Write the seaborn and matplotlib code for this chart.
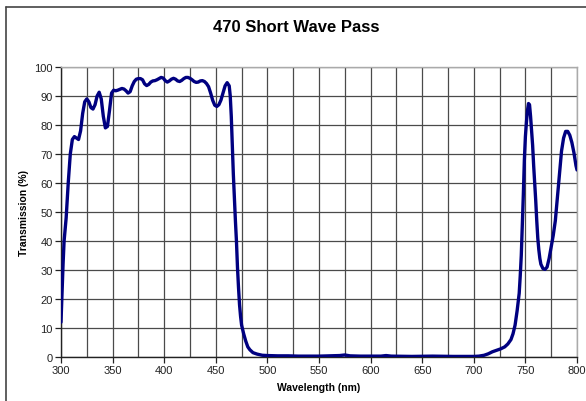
import matplotlib
matplotlib.use("Agg")
import matplotlib.pyplot as plt
from matplotlib.lines import Line2D
from matplotlib.ticker import MultipleLocator
import seaborn as sns
import pandas as pd

# spectrum
wavelength = [300, 302, 303, 305, 307, 309, 311, 313, 315, 317, 319, 321, 323, 325, 327, 329,
              331, 333, 335, 337, 339, 341, 343, 345, 347, 349, 351, 353, 355, 357, 359, 361,
              363, 365, 367, 369, 371, 373, 375, 377, 379, 381, 383, 385, 387, 389, 391, 393,
              395, 397, 399, 401, 403, 405, 407, 409, 411, 413, 415, 417, 419, 421, 423, 425,
              427, 429, 431, 433, 435, 437, 439, 441, 443, 445, 447, 449, 451, 453, 455, 457,
              459, 461, 463, 464, 465, 466, 467, 468, 469, 470, 471, 472, 473, 474, 475, 477,
              479, 481, 483, 486, 490, 495, 500, 510, 520, 530, 540, 550, 560, 570, 575, 580,
              590, 600, 610, 615, 620, 640, 660, 680, 700, 705, 710, 714, 718, 722, 726, 730,
              733, 736, 738, 740, 742, 744, 745, 746, 747, 748, 749, 750, 751, 752, 753, 754,
              755, 756, 757, 758, 759, 760, 761, 762, 763, 764, 765, 767, 769, 771, 773, 775,
              777, 779, 781, 783, 785, 787, 789, 791, 793, 795, 797, 799, 800]
transmission = [12, 32, 40, 48, 60, 70, 75, 76, 75.5, 75, 78, 84, 88, 89, 88, 86,
                85.5, 87, 90, 91.3, 89, 83, 79, 79.5, 85, 91, 92, 91.8, 92, 92.3, 92.6, 92.4,
                91.8, 91, 91.5, 93.5, 95, 95.8, 96, 96, 95.6, 94.2, 93.6, 94, 94.8, 95.2, 95.3, 95.6,
                96, 96.4, 96.2, 95.3, 94.8, 95.2, 95.8, 96.1, 95.8, 95.2, 95, 95.4, 96, 96.4, 96.4, 96.1,
                95.6, 95, 94.7, 94.8, 95.2, 95.3, 95, 94.3, 93.2, 91, 88.5, 86.8, 86.4, 87, 88.6, 91,
                93.5, 94.6, 93.5, 90, 83, 73, 63, 55, 47, 40, 31, 24, 18, 14, 11, 8,
                5.5, 3.5, 2.5, 1.5, 1, 0.6, 0.5, 0.4, 0.4, 0.3, 0.3, 0.3, 0.4, 0.5, 0.7, 0.4,
                0.3, 0.3, 0.3, 0.5, 0.3, 0.2, 0.3, 0.2, 0.2, 0.3, 0.6, 1.1, 1.8, 2.3, 2.8, 3.5,
                4.5, 6, 8, 11, 16, 22, 28, 35, 45, 56, 68, 76, 81, 85, 87.4, 87,
                83, 78, 73, 66, 60, 54, 47, 41, 37, 34, 32, 30.5, 30.2, 31, 34, 38,
                42, 47, 55, 63, 71, 75.5, 77.8, 77.8, 76.5, 74, 70.5, 66, 64.5]

df = pd.DataFrame({"Wavelength (nm)": wavelength, "Transmission (%)": transmission})

sns.set_style("white")
plt.rcParams["font.family"] = ["Liberation Sans", "DejaVu Sans"]
plt.rcParams["text.color"] = "black"
plt.rcParams["axes.labelcolor"] = "black"
plt.rcParams["xtick.color"] = "#222222"
plt.rcParams["ytick.color"] = "#222222"

fig = plt.figure(figsize=(5.86, 4.02), dpi=100)
ax = fig.add_axes([61 / 586, 1 - 358 / 402, 516 / 586, 290 / 402])

sns.lineplot(data=df, x="Wavelength (nm)", y="Transmission (%)", ax=ax,
             color="#000080", linewidth=2.4, zorder=3)

ax.set_xlim(300, 800)
ax.set_ylim(0, 100)
ax.xaxis.set_major_locator(MultipleLocator(50))
ax.xaxis.set_minor_locator(MultipleLocator(25))
ax.yaxis.set_major_locator(MultipleLocator(10))
ax.grid(True, which="both", color="#4a4a4a", linewidth=0.9, zorder=1)
ax.set_axisbelow(True)

ax.tick_params(axis="both", which="major", direction="out", length=4, width=0.9,
               labelsize=8, pad=2, left=True, bottom=True)
ax.tick_params(axis="both", which="minor", length=0)

for side in ["left", "bottom"]:
    ax.spines[side].set_color("#222222")
    ax.spines[side].set_linewidth(1.0)
for side in ["top", "right"]:
    ax.spines[side].set_color("#aaaaaa")
    ax.spines[side].set_linewidth(1.0)

ax.set_xlabel("Wavelength (nm)", fontsize=7.5, fontweight="bold", labelpad=5)
ax.set_ylabel("Transmission (%)", fontsize=7.5, fontweight="bold", labelpad=4)

fig.text(296 / 586, 1 - 27 / 402, "470 Short Wave Pass", ha="center", va="center",
         fontsize=12, fontweight="bold")

# outer chart frame (runs off the right and bottom edges)
fig.add_artist(Line2D([6 / 586, 6 / 586], [0, 1 - 8 / 402], transform=fig.transFigure,
                      color="#444444", linewidth=1.2))
fig.add_artist(Line2D([6 / 586, 1], [1 - 8 / 402, 1 - 8 / 402], transform=fig.transFigure,
                      color="#444444", linewidth=1.2))

fig.savefig("out.png", dpi=100)
